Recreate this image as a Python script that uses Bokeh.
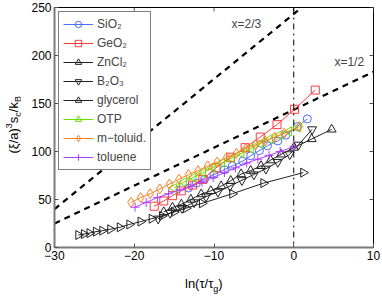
import numpy as np
from bokeh.plotting import figure
from bokeh.models import Legend, LegendItem, Span, Label, Range1d, Div, ColumnDataSource
from bokeh.layouts import row, column
from bokeh.embed import file_html
from bokeh.resources import INLINE

# ---- data ----
sio2_x = [-13.2, -12.2, -11.2, -10.0, -8.7, -7.7, -6.4, -5.4, -4.3, -3.3, -2.0, -1.0, 0.45, 1.7]
sio2_y = [62, 67, 71, 76, 81, 85, 90, 95.5, 101, 106, 111, 117, 126, 134]

geo2_x = [-17.5, -16.3, -15.2, -14.1, -12.7, -11.4, -9.75, -7.9, -6.1, -4.2, -2.1, 0.1, 2.7]
geo2_y = [43, 48.5, 54, 59, 65, 71, 83, 94, 104, 115, 128, 144, 164]

zncl2_x = [-16.3, -15.2, -14.1, -12.9, -11.6, -10.4, -9.1, -7.9, -6.6, -5.4, -4.1, -2.9, -1.6, 0.0, 2.25, 4.75]
zncl2_y = [37, 41.7, 45, 50, 55.6, 59, 64, 69.5, 76.5, 80, 85, 91, 97, 104, 113, 123]

b2o3_x = [-17.0, -15.5, -14.0, -12.5, -11.0, -9.5, -8.0, -6.5, -5.0, -3.5, -2.0, -0.5, 0.6, 2.3]
b2o3_y = [30, 36, 41, 47, 53, 58, 64, 70, 76, 82, 89, 97, 107, 123]

glyc_x = [-27.0, -26.3, -25.6, -24.8, -24.0, -23.0, -21.8, -20.6, -19.2, -17.8, -16.5, -15.0, -13.5, -11.5, -7.7, -3.8, 1.2]
glyc_y = [13, 14, 15, 16.5, 17.5, 19, 21, 24, 27, 30, 33, 37, 41, 46, 56, 67, 78]

otp_x = [-15.0, -13.8, -12.6, -11.4, -10.2, -9.0, -7.8, -6.6, -5.4, -4.2, -3.0, -1.8, -0.6, 0.5]
otp_y = [62, 68, 73, 78, 83, 88, 93, 98, 103, 108, 113, 117, 121, 125]

mtol_x = [-20.4, -19.2, -18.0, -16.8, -15.6, -14.4, -13.2, -12.0, -10.8, -9.6, -8.4, -7.2, -6.0, -4.8, -3.6, -2.4, -1.2, 0.7]
mtol_y = [47, 52, 56, 61, 66, 71, 76, 80, 85, 89, 94, 98, 103, 107, 111, 115, 119, 126]

tol_x = [-19.9, -18.5, -17.1, -15.7, -14.3, -12.9, -11.5, -10.1, -8.7, -7.3, -5.9, -4.5, -3.1, -1.7, 0.0]
tol_y = [42, 47, 52, 56, 60, 64, 68, 73, 78, 83, 88, 92, 96, 100, 105]

line23_x = [-30, 1]
line23_y = [40, 250]
line12_x = [-30, 10]
line12_y = [25, 183]

x_ticks = [-30, -20, -10, 0, 10]
y_ticks = [0, 50, 100, 150, 200, 250]
X0, X1, Y0, Y1 = -30, 10, 0, 250

FONT = "Liberation Sans"
FW, FH = 319, 240          # frame size in px
PX = (X1 - X0) / FW        # data units per px (x)
PY = (Y1 - Y0) / FH        # data units per px (y)

p = figure(frame_width=FW, frame_height=FH, output_backend="svg", toolbar_location=None,
           x_range=Range1d(X0, X1), y_range=Range1d(Y0, Y1), margin=0,
           min_border_left=34, min_border_right=9, min_border_top=7, min_border_bottom=20)
p.xgrid.visible = False
p.ygrid.visible = False
p.outline_line_color = "black"
p.background_fill_color = "white"

for ax in (p.xaxis[0], p.yaxis[0]):
    ax.major_tick_in = 4
    ax.major_tick_out = 0
    ax.minor_tick_in = 0
    ax.minor_tick_out = 0
    ax.axis_line_color = "#7a7a7a"
    ax.axis_line_width = 2
    ax.major_tick_line_color = "#555555"
    ax.major_label_text_font = FONT
    ax.major_label_text_font_size = "12px"
    ax.major_label_text_color = "black"
p.xaxis.ticker = x_ticks
p.yaxis.ticker = y_ticks
p.xaxis.major_label_standoff = 3
p.yaxis.major_label_standoff = 3
p.xaxis.major_label_overrides = {-30: "−30", -20: "−20", -10: "−10"}

# inner ticks on top and right box edges (from the tick lists)
p.segment(x0=x_ticks, y0=[Y1] * len(x_ticks), x1=x_ticks, y1=[Y1 - 4 * PY] * len(x_ticks),
          line_color="#555555", line_width=1)
p.segment(x0=[X1] * len(y_ticks), y0=y_ticks, x1=[X1 - 4 * PX] * len(y_ticks), y1=y_ticks,
          line_color="#555555", line_width=1)

# reference lines
p.line(line23_x, line23_y, line_color="black", line_width=2.2, line_dash="6 5")
p.line(line12_x, line12_y, line_color="black", line_width=2.2, line_dash="6 5")
p.add_layout(Span(location=0, dimension="height", line_color="black", line_width=1, line_dash="dashdot"))

p.add_layout(Label(x=-7.8, y=233, text="x=2/3", text_font=FONT, text_font_size="12px",
                   text_baseline="middle", text_align="left"))
p.add_layout(Label(x=5.1, y=193, text="x=1/2", text_font=FONT, text_font_size="12px",
                   text_baseline="middle", text_align="left"))

series = [
    ("SiO₂", sio2_x, sio2_y, "circle", 0, "#4a6cff", 8),
    ("GeO₂", geo2_x, geo2_y, "square", 0, "#ff3c3c", 8),
    ("ZnCl₂", zncl2_x, zncl2_y, "triangle", 0, "#222222", 9),
    ("B₂O₃", b2o3_x, b2o3_y, "inverted_triangle", 0, "#222222", 9),
    ("glycerol", glyc_x, glyc_y, "triangle", -np.pi / 2, "#222222", 9),
    ("OTP", otp_x, otp_y, "triangle", np.pi / 2, "#66e000", 9),
    ("m−toluid.", mtol_x, mtol_y, "diamond", 0, "#ff7f1e", 10),
    ("toluene", tol_x, tol_y, "cross", 0, "#b040ff", 9),
]

items = []
for name, xs, ys_, marker, a, col, sz in series:
    src = ColumnDataSource(dict(x=xs, y=ys_, ang=[a] * len(xs)))
    r1 = p.line("x", "y", source=src, line_color=col, line_width=1)
    r2 = p.scatter("x", "y", source=src, marker=marker, angle="ang", size=sz, fill_color=None,
                   line_color=col, line_width=1)
    items.append(LegendItem(label=name, renderers=[r1, r2], index=0))

legend = Legend(items=items, location="top_left")
legend.label_text_font = FONT
legend.label_text_font_size = "12px"
legend.border_line_color = "black"
legend.border_line_width = 1
legend.margin = 4
legend.padding = 4
legend.spacing = 3
legend.label_height = 16
legend.glyph_height = 16
legend.glyph_width = 30
legend.label_standoff = 4
legend.background_fill_alpha = 1
p.add_layout(legend)

# ---- axis titles as real text with sub/superscripts ----
ytitle = Div(width=20, height=267, margin=0, text=(
    '<div style="position:absolute; left:2px; top:96px; writing-mode:vertical-rl; '
    'transform:rotate(180deg); font-family:\'Liberation Sans\'; font-size:13px; '
    'line-height:15px; white-space:nowrap; color:black;">'
    '(ξ/a)<sup style="font-size:9px">3</sup>s<sub style="font-size:9px">c</sub>'
    '/k<sub style="font-size:9px">B</sub></div>'))
xtitle = Div(width=382, height=30, margin=0, text=(
    '<div style="position:absolute; left:185px; top:9px; font-family:\'Liberation Sans\'; '
    'font-size:13px; line-height:15px; white-space:nowrap; color:black;">'
    'ln(τ/τ<sub style="font-size:9px">g</sub>)</div>'))

layout = column(row(ytitle, p, spacing=0, margin=0), xtitle, spacing=0, margin=0)

open("out.html", "w").write(file_html(layout, INLINE))
